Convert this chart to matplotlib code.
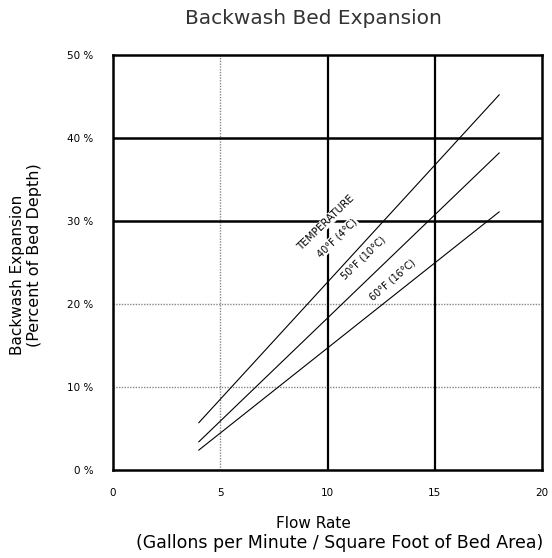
import matplotlib
matplotlib.use("Agg")
import matplotlib.pyplot as plt

# Data
flow = [4, 18]
temp_labels = ["40°F (4°C)", "50°F (10°C)", "60°F (16°C)"]
expansion_40F = [5.7, 45.2]
expansion_50F = [3.4, 38.2]
expansion_60F = [2.4, 31.1]
x_ticks = [0, 5, 10, 15, 20]
y_ticks = [0, 10, 20, 30, 40, 50]
y_tick_labels = ["0 %", "10 %", "20 %", "30 %", "40 %", "50 %"]

fig = plt.figure(figsize=(5.52, 5.58), dpi=100)
ax = fig.add_axes([0.2047, 0.1577, 0.7773, 0.7437])
ax.set_xlim(0, 20)
ax.set_ylim(0, 50)

# grid
for xv in [5]:
    ax.axvline(xv, color="#888888", lw=1.0, ls=(0, (1, 1)), zorder=1)
for yv in [10, 20]:
    ax.axhline(yv, color="#888888", lw=1.0, ls=(0, (1, 1)), zorder=1)
for xv in [10, 15]:
    ax.axvline(xv, color="black", lw=1.6, zorder=1)
for yv in [30, 40]:
    ax.axhline(yv, color="black", lw=1.8, zorder=1)

for s in ax.spines.values():
    s.set_linewidth(1.8)

for ys in [expansion_40F, expansion_50F, expansion_60F]:
    ax.plot(flow, ys, color="black", lw=0.8, zorder=3)

ax.set_xticks(x_ticks)
ax.set_xticklabels([str(v) for v in x_ticks], fontsize=7.5)
ax.set_yticks(y_ticks)
ax.set_yticklabels(y_tick_labels, fontsize=7.5)
ax.tick_params(length=0)
ax.tick_params(axis="x", pad=13)
ax.tick_params(axis="y", pad=14)

bb = dict(facecolor="white", edgecolor="none", pad=0.5)
ax.text(9.93, 29.8, "TEMPERATURE", rotation=44, fontsize=7.5, ha="center", va="center",
        bbox=bb, zorder=4)
ax.text(10.44, 28.0, temp_labels[0], rotation=44, fontsize=7, ha="center", va="center",
        bbox=bb, zorder=4)
ax.text(11.66, 25.5, temp_labels[1], rotation=44, fontsize=7, ha="center", va="center",
        bbox=bb, zorder=4)
ax.text(13.05, 22.9, temp_labels[2], rotation=41, fontsize=7, ha="center", va="center",
        bbox=bb, zorder=4)

fig.text(0.567, 0.967, "Backwash Bed Expansion", ha="center", va="center", fontsize=14.5,
         color="#333333")
fig.text(0.567, 0.062, "Flow Rate", ha="center", va="center", fontsize=11)
fig.text(0.615, 0.027, "(Gallons per Minute / Square Foot of Bed Area)", ha="center",
         va="center", fontsize=12.5)
fig.text(0.031, 0.507, "Backwash Expansion", ha="center", va="center", fontsize=11,
         rotation=90)
fig.text(0.063, 0.543, "(Percent of Bed Depth)", ha="center", va="center", fontsize=11.5,
         rotation=90)

fig.savefig("out.png", dpi=100)
